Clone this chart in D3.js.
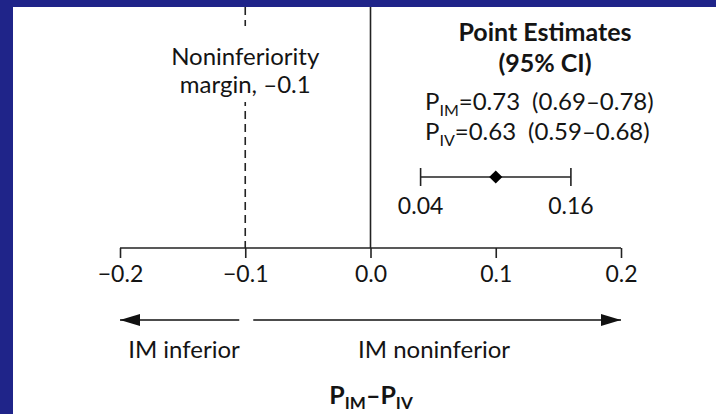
<!DOCTYPE html>
<html>
<head>
<meta charset="utf-8">
<script src="https://cdn.jsdelivr.net/npm/d3@7"></script>
<style>
  body { margin: 0; padding: 0; background: #1f2489; }
  svg { display: block; }
  text { font-family: Lato, "Open Sans", sans-serif; fill: #141414; }
</style>
</head>
<body>
<div id="chart"></div>
<script>
// values
var axisTicks = [-0.2, -0.1, 0.0, 0.1, 0.2];
var marginValue = -0.1;
var zeroValue = 0.0;
var diffEstimate = 0.10;
var diffCI = [0.04, 0.16];
var ciLabels = ["0.04", "0.16"];
var estimateLines = [
    {sub: "IM", rest: "=0.73\u2002(0.69\u20130.78)"},
    {sub: "IV", rest: "=0.63\u2002(0.59\u20130.68)"}
];
var directionLabels = [
    {text: "IM inferior", from: -0.1, to: -0.2},
    {text: "IM noninferior", from: -0.1, to: 0.2}
];

var svgWidth = 716;
var svgHeight = 414;
var fs = 23;

var svg = d3.select('#chart')
    .append('svg')
    .attr('width', svgWidth)
    .attr('height', svgHeight);

// white panel inside the blue frame
svg.append('rect')
    .attr('x', 13)
    .attr('y', 7)
    .attr('width', svgWidth - 13)
    .attr('height', svgHeight - 7)
    .attr('fill', '#fff');

var defs = svg.append('defs');
defs.append('marker')
    .attr('id', 'arrow')
    .attr('viewBox', '0 0 20 12')
    .attr('refX', 20)
    .attr('refY', 6)
    .attr('markerWidth', 20)
    .attr('markerHeight', 12)
    .attr('markerUnits', 'userSpaceOnUse')
    .attr('orient', 'auto')
    .append('path')
    .attr('d', 'M0,0 L20,6 L0,12 Z')
    .attr('fill', '#111');

var xScale = d3.scaleLinear()
    .domain([-0.2, 0.2])
    .range([120, 621]);

var axisY = 248;
var ink = '#222';

// axis
var xAxis = d3.axisBottom(xScale)
    .tickValues(axisTicks)
    .tickSize(10)
    .tickPadding(8)
    .tickFormat(function(d) { return d3.format('.1f')(d).replace('-', '\u2013'); });

var axisG = svg.append('g')
    .attr('transform', 'translate(0,' + axisY + ')')
    .call(xAxis);
axisG.select('.domain')
    .attr('d', 'M' + xScale(-0.2) + ',0H' + xScale(0.2))
    .attr('stroke', ink)
    .attr('stroke-width', 1.6);
axisG.selectAll('.tick line').attr('stroke', ink).attr('stroke-width', 1.6);
axisG.selectAll('.tick text')
    .attr('font-family', 'Lato, sans-serif')
    .attr('font-size', fs)
    .attr('fill', '#141414');

// zero line
svg.append('line')
    .attr('x1', xScale(zeroValue)).attr('x2', xScale(zeroValue))
    .attr('y1', 7).attr('y2', axisY)
    .attr('stroke', ink)
    .attr('stroke-width', 1.6);

// noninferiority margin (dashed)
svg.append('line')
    .attr('x1', xScale(marginValue)).attr('x2', xScale(marginValue))
    .attr('y1', 7).attr('y2', axisY)
    .attr('stroke', ink)
    .attr('stroke-width', 1.6)
    .attr('stroke-dasharray', '8,5');

// white box behind margin label
svg.append('rect')
    .attr('x', xScale(marginValue) - 85)
    .attr('y', 26)
    .attr('width', 170)
    .attr('height', 76)
    .attr('fill', '#fff');

var marginLabel = svg.append('text')
    .attr('x', xScale(marginValue))
    .attr('y', 65)
    .attr('text-anchor', 'middle')
    .attr('font-size', fs + 1);
marginLabel.append('tspan').attr('x', xScale(marginValue)).text('Noninferiority');
marginLabel.append('tspan').attr('x', xScale(marginValue)).attr('dy', 28).text('margin, \u20130.1');

// point estimates block
var blockX = 545;
svg.append('text')
    .attr('x', blockX).attr('y', 41)
    .attr('text-anchor', 'middle')
    .attr('font-size', 25)
    .attr('font-weight', 'bold')
    .text('Point Estimates');
svg.append('text')
    .attr('x', blockX).attr('y', 72)
    .attr('text-anchor', 'middle')
    .attr('font-size', 25)
    .attr('font-weight', 'bold')
    .text('(95% CI)');

estimateLines.forEach(function(d, i) {
    var t = svg.append('text')
        .attr('x', 425)
        .attr('y', 110 + i * 30)
        .attr('font-size', fs + 1);
    t.append('tspan').text('P');
    t.append('tspan').attr('font-size', 16).attr('dy', 6).text(d.sub);
    t.append('tspan').attr('dy', -6).text(d.rest);
});

// confidence interval
var ciY = 177;
svg.append('line')
    .attr('x1', xScale(diffCI[0])).attr('x2', xScale(diffCI[1]))
    .attr('y1', ciY).attr('y2', ciY)
    .attr('stroke', ink).attr('stroke-width', 1.6);
svg.selectAll('.ciCap')
    .data(diffCI)
    .enter()
    .append('line')
    .attr('x1', d => xScale(d)).attr('x2', d => xScale(d))
    .attr('y1', ciY - 9).attr('y2', ciY + 9)
    .attr('stroke', ink).attr('stroke-width', 1.6);
svg.append('path')
    .attr('d', d3.symbol().type(d3.symbolDiamond2).size(110))
    .attr('transform', 'translate(' + xScale(diffEstimate) + ',' + ciY + ')')
    .attr('fill', '#000');
svg.selectAll('.ciLabel')
    .data(diffCI)
    .enter()
    .append('text')
    .attr('x', d => xScale(d))
    .attr('y', 214)
    .attr('text-anchor', 'middle')
    .attr('font-size', fs)
    .text((d, i) => ciLabels[i]);

// direction arrows
var arrowY = 320;
var gapLeft = 6, gapRight = 8;
svg.selectAll('.dirArrow')
    .data(directionLabels)
    .enter()
    .append('line')
    .attr('x1', d => xScale(d.from) + (d.to < d.from ? -gapLeft : gapRight))
    .attr('x2', d => xScale(d.to))
    .attr('y1', arrowY).attr('y2', arrowY)
    .attr('stroke', '#111').attr('stroke-width', 1.6)
    .attr('marker-end', 'url(#arrow)');

svg.append('text')
    .attr('x', 184).attr('y', 358)
    .attr('text-anchor', 'middle')
    .attr('font-size', fs + 1)
    .text(directionLabels[0].text);
svg.append('text')
    .attr('x', 434).attr('y', 358)
    .attr('text-anchor', 'middle')
    .attr('font-size', fs + 1)
    .text(directionLabels[1].text);

// axis title
var title = svg.append('text')
    .attr('x', 371).attr('y', 404)
    .attr('text-anchor', 'middle')
    .attr('font-size', 25)
    .attr('font-weight', 'bold');
title.append('tspan').text('P');
title.append('tspan').attr('font-size', 17).attr('dy', 5).text('IM');
title.append('tspan').attr('dy', -5).text('\u2013P');
title.append('tspan').attr('font-size', 17).attr('dy', 5).text('IV');
</script>
</body>
</html>
